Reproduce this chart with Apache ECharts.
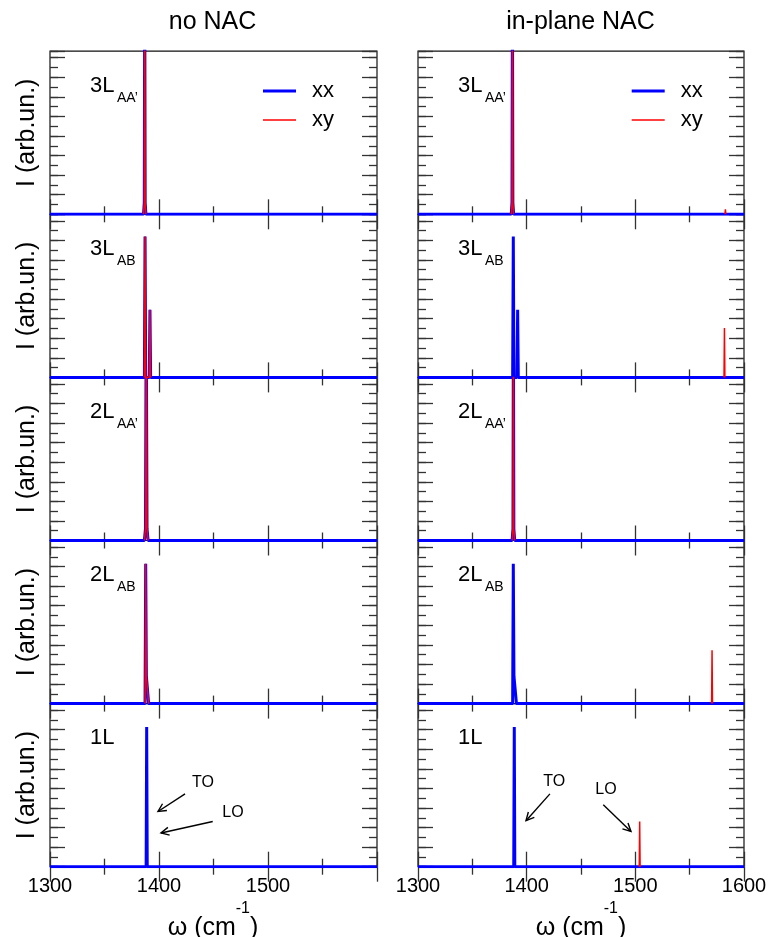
<!DOCTYPE html>
<html><head><meta charset="utf-8">
<script src="https://cdn.jsdelivr.net/npm/echarts@6/dist/echarts.min.js"></script>
<style>html,body{margin:0;padding:0;background:#fff}#c{width:772px;height:937px}</style>
</head><body><div id="c"></div>
<script>
// ---------------- data ----------------
const columnTitles = ['no NAC', 'in-plane NAC'];
const panelMain = ['3L', '3L', '2L', '2L', '1L'];
const panelSub = ['AA\u2019', 'AB', 'AA\u2019', 'AB', ''];
const xTicks = [1300, 1400, 1500, 1600];
const xMin = 1300, xMax = 1600, yMax = 8.33;
const seriesNames = ['xx', 'xy'];

// no NAC column (x in cm^-1, y in arb. units)
const noNAC_3LAA_xx = [[1300,0],[1385.8,0],[1386.5,0.6],[1386.9,12],[1387.3,0.6],[1388.0,0],[1600,0]];
const noNAC_3LAA_xy = [[1385.8,0],[1386.5,0.6],[1386.9,12],[1387.3,0.6],[1388.0,0]];
const noNAC_3LAB_xx = [[1300,0],[1386.6,0],[1387.2,7.2],[1387.8,0],[1391.1,0],[1391.7,3.45],[1392.3,0],[1600,0]];
const noNAC_3LAB_xy = [[1386.6,0],[1387.2,7.2],[1387.8,0],[1391.1,0],[1391.7,3.45],[1392.3,0]];
const noNAC_2LAA_xx = [[1300,0],[1386.6,0],[1387.6,0.6],[1388.3,12],[1389.0,0.6],[1390.0,0],[1600,0]];
const noNAC_2LAA_xy = [[1386.6,0],[1387.6,0.6],[1388.3,12],[1389.0,0.6],[1390.0,0]];
const noNAC_2LAB_xx = [[1300,0],[1387.2,0],[1387.8,7.14],[1388.4,1.4],[1389.9,1.35],[1390.5,0],[1600,0]];
const noNAC_2LAB_xy = [[1387.2,0],[1387.8,7.14],[1388.4,1.4],[1389.9,1.35],[1390.5,0]];
const noNAC_1L_xx = [[1300,0],[1388.2,0],[1388.7,7.14],[1389.2,0],[1600,0]];
const noNAC_1L_xy = [];

// in-plane NAC column
const NAC_3LAA_xx = [[1300,0],[1385.8,0],[1386.5,0.6],[1386.9,12],[1387.3,0.6],[1388.0,0],[1600,0]];
const NAC_3LAA_xy = [[1385.8,0],[1386.5,0.6],[1386.9,12],[1387.3,0.6],[1388.0,0],[1480,'-'],[1582.5,0],[1582.9,0.25],[1583.3,0]];
const NAC_3LAB_xx = [[1300,0],[1387.1,0],[1387.7,7.2],[1388.3,0],[1391.1,0],[1391.7,3.45],[1392.3,0],[1600,0]];
const NAC_3LAB_xy = [[1581.6,0],[1582.0,2.52],[1582.4,0]];
const NAC_2LAA_xx = [[1300,0],[1386.6,0],[1387.4,0.6],[1387.8,12],[1388.2,0.6],[1389.0,0],[1600,0]];
const NAC_2LAA_xy = [[1386.6,0],[1387.4,0.6],[1387.8,12],[1388.2,0.6],[1389.0,0]];
const NAC_2LAB_xx = [[1300,0],[1387.1,0],[1387.7,7.14],[1388.3,1.4],[1390.0,1.35],[1390.6,0],[1600,0]];
const NAC_2LAB_xy = [[1570.2,0],[1570.6,2.72],[1571.0,0]];
const NAC_1L_xx = [[1300,0],[1388.1,0],[1388.6,7.13],[1389.1,0],[1600,0]];
const NAC_1L_xy = [[1503.6,0],[1504.0,2.31],[1504.4,0]];

// annotations in the 1L panels (data coordinates)
const annLabels = ['TO', 'LO'];
const annNoNAC_text = [[1440.4,4.29],[1467.9,2.76]];
const annNoNAC_arrows = [[[1423.9,3.72],[1399.1,2.82]],[[1449.3,2.31],[1401.8,1.72]]];
const annNAC_text = [[1425.4,4.35],[1473.0,3.96]];
const annNAC_arrows = [[[1421.4,3.72],[1399.4,2.35]],[[1470.5,3.16],[1496.0,1.80]]];

const panelData = [
  [[noNAC_3LAA_xx,noNAC_3LAA_xy],[noNAC_3LAB_xx,noNAC_3LAB_xy],[noNAC_2LAA_xx,noNAC_2LAA_xy],[noNAC_2LAB_xx,noNAC_2LAB_xy],[noNAC_1L_xx,noNAC_1L_xy]],
  [[NAC_3LAA_xx,NAC_3LAA_xy],[NAC_3LAB_xx,NAC_3LAB_xy],[NAC_2LAA_xx,NAC_2LAA_xy],[NAC_2LAB_xx,NAC_2LAB_xy],[NAC_1L_xx,NAC_1L_xy]]
];

// ---------------- layout / style ----------------
const FONT = '"Liberation Sans", Arial, Helvetica, sans-serif';
const GL = [50, 418], GW = [327, 326], GT0 = 51.2, GH = 163.1;
const BLUE = '#0000ff', RED = '#ff0000', TICK = '#333';

const grids = [], xAxes = [], yAxes = [], series = [];
for (let c = 0; c < 2; c++) {
  for (let r = 0; r < 5; r++) {
    const gi = c * 5 + r;
    grids.push({left: GL[c], width: GW[c], top: GT0 + r * GH, height: GH,
      show: true, borderColor: '#111', borderWidth: 1.2, backgroundColor: 'transparent',
      outerBoundsMode: 'none', containLabel: false});
    ['bottom', 'top'].forEach(function (pos) {
      const showLab = pos === 'bottom' && r === 4;
      xAxes.push({type: 'value', gridIndex: gi, position: pos, min: xMin, max: xMax, interval: 100,
        axisLine: {show: false},
        axisTick: {show: true, inside: true, length: 15, lineStyle: {color: TICK, width: 1.3}},
        minorTick: {show: true, splitNumber: 2, length: 8, lineStyle: {color: TICK, width: 1.3}},
        splitLine: {show: false}, minorSplitLine: {show: false},
        axisLabel: {show: showLab, color: '#000', fontSize: 20, fontFamily: FONT, margin: 10,
          showMaxLabel: c === 1, showMinLabel: true,
          formatter: function (v) { return xTicks.indexOf(v) >= 0 ? String(v) : ''; }}
      });
    });
    ['left', 'right'].forEach(function (pos) {
      [[1, 15], [0.5, 8]].forEach(function (spec) {
        yAxes.push({type: 'value', gridIndex: gi, position: pos, min: 0, max: yMax, interval: spec[0],
          axisLine: {show: false},
          axisTick: {show: true, inside: true, length: spec[1], lineStyle: {color: TICK, width: 1.3}},
          splitLine: {show: false}, axisLabel: {show: false}
        });
      });
    });
    const d = panelData[c][r];
    series.push({name: seriesNames[0], type: 'line', xAxisIndex: gi * 2, yAxisIndex: gi * 4, data: d[0],
      showSymbol: false, symbol: 'none', clip: true, connectNulls: false, z: 3,
      lineStyle: {color: BLUE, width: 3}, itemStyle: {color: BLUE}});
    series.push({name: seriesNames[1], type: 'line', xAxisIndex: gi * 2, yAxisIndex: gi * 4, data: d[1],
      showSymbol: false, symbol: 'none', clip: true, connectNulls: false, z: 4,
      lineStyle: {color: RED, width: 1.5}, itemStyle: {color: RED}});
  }
}

function legendAt(left) {
  return {left: left, top: 80, orient: 'vertical', padding: 0, itemGap: 7, itemWidth: 33, itemHeight: 14,
    selectedMode: false, symbolKeepAspect: true,
    data: [{name: 'xx', icon: 'path://M0,0H66V6H0Z', itemStyle: {color: BLUE}},
           {name: 'xy', icon: 'path://M0,0H66V3H0Z', itemStyle: {color: RED}}],
    textStyle: {color: '#000', fontSize: 22, fontFamily: FONT, padding: [0, 0, 0, 11]}};
}

const chart = echarts.init(document.getElementById('c'), null, {renderer: 'canvas'});
chart.setOption({
  animation: false,
  backgroundColor: '#fff',
  grid: grids, xAxis: xAxes, yAxis: yAxes, series: series,
  legend: [legendAt(263), legendAt(631.7)]
});

// ---------------- text / annotations ----------------
const g = [];
const titleX = [212.5, 580.5];
const xNameX = [213, 581];
for (let c = 0; c < 2; c++) {
  g.push({type: 'text', x: titleX[c], y: 22.5, silent: true,
    style: {text: columnTitles[c], fill: '#000', font: '25px ' + FONT, align: 'center', verticalAlign: 'middle'}});
  g.push({type: 'text', x: xNameX[c], y: 921, silent: true,
    style: {text: '{a|\u03c9 (cm}{b|-1}{a|)}', align: 'center', verticalAlign: 'middle', fill: '#000',
      rich: {a: {fontSize: 25, fontFamily: FONT, lineHeight: 40, verticalAlign: 'bottom', fill: '#000'},
             b: {fontSize: 16, fontFamily: FONT, lineHeight: 16, verticalAlign: 'top', fill: '#000'}}}});
  for (let r = 0; r < 5; r++) {
    const top = GT0 + r * GH;
    g.push({type: 'text', x: GL[c] + 40, y: top + 34.5, silent: true,
      style: {text: panelMain[r], fill: '#000', font: '22px ' + FONT, align: 'left', verticalAlign: 'middle'}});
    if (panelSub[r]) {
      g.push({type: 'text', x: GL[c] + 67, y: top + 46.5, silent: true,
        style: {text: panelSub[r], fill: '#000', font: '14px ' + FONT, align: 'left', verticalAlign: 'middle'}});
    }
    if (c === 0) {
      g.push({type: 'text', x: 27, y: top + GH / 2, rotation: Math.PI / 2, silent: true,
        style: {text: 'I (arb.un.)', fill: '#000', font: '25px ' + FONT, align: 'center', verticalAlign: 'middle'}});
    }
  }
}
const annSets = [[annNoNAC_text, annNoNAC_arrows, 4], [annNAC_text, annNAC_arrows, 9]];
annSets.forEach(function (set) {
  const gi = set[2];
  set[0].forEach(function (p, i) {
    const q = chart.convertToPixel({gridIndex: gi}, p);
    g.push({type: 'text', x: q[0], y: q[1], silent: true,
      style: {text: annLabels[i], fill: '#000', font: '16px ' + FONT, align: 'center', verticalAlign: 'middle'}});
  });
  set[1].forEach(function (a) {
    const p0 = chart.convertToPixel({gridIndex: gi}, a[0]);
    const p1 = chart.convertToPixel({gridIndex: gi}, a[1]);
    const dx = p1[0] - p0[0], dy = p1[1] - p0[1], L = Math.hypot(dx, dy);
    const ux = dx / L, uy = dy / L, px = -uy, py = ux;
    const hl = 8, hw = 4;
    g.push({type: 'line', silent: true, shape: {x1: p0[0], y1: p0[1], x2: p1[0], y2: p1[1]},
      style: {stroke: '#000', lineWidth: 1.4}});
    g.push({type: 'polyline', silent: true,
      shape: {points: [[p1[0] - hl * ux + hw * px, p1[1] - hl * uy + hw * py], [p1[0], p1[1]],
                       [p1[0] - hl * ux - hw * px, p1[1] - hl * uy - hw * py]]},
      style: {stroke: '#000', lineWidth: 1.4, fill: null}});
  });
});
chart.setOption({graphic: {elements: g}});
</script></body></html>
